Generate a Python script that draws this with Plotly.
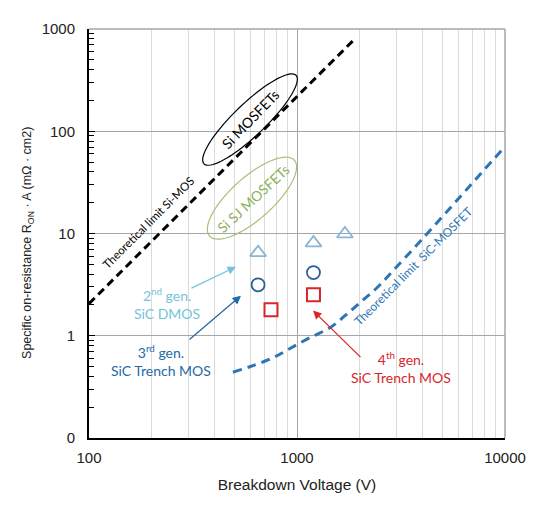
import numpy as np
import plotly.graph_objects as go

# Data
si_limit_v = [100, 1920]
si_limit_r = [2.06, 820]

sic_limit_v = [492, 614, 767, 925, 1155, 1441, 1701, 2010, 2424, 2895, 4035, 10000]
sic_limit_r = [0.44, 0.51, 0.61, 0.75, 0.96, 1.20, 1.57, 2.11, 2.95, 4.32, 9.0, 71]

gen2_v = [650, 1200, 1700]
gen2_r = [6.5, 8.1, 9.9]

gen3_v = [650, 1200]
gen3_r = [3.15, 4.15]

gen4_v = [750, 1200]
gen4_r = [1.8, 2.52]

# page has an 8px body margin
OFF = 8
W, H = 540 - OFF, 508 - OFF
# plot area in screen pixels (for the hand drawn ellipses / labels)
L, R, T, B = 89, 505, 27, 438


def px(x, y):
    return (x - L) / (R - L), (B - y) / (B - T)


def ellipse_path(cx, cy, a, b, ang):
    t = np.linspace(0, 2 * np.pi, 80)
    th = np.radians(ang)
    xs = cx + a * np.cos(t) * np.cos(th) - b * np.sin(t) * np.sin(th)
    ys = cy - (a * np.cos(t) * np.sin(th) + b * np.sin(t) * np.cos(th))
    pts = [px(x, y) for x, y in zip(xs, ys)]
    return "M " + " L ".join(f"{p[0]:.4f},{p[1]:.4f}" for p in pts) + " Z"


fig = go.Figure()

fig.add_trace(go.Scatter(
    x=si_limit_v, y=si_limit_r, mode="lines",
    line=dict(color="black", width=3, dash="8px,5px"),
    showlegend=False, hoverinfo="skip"
))
fig.add_trace(go.Scatter(
    x=sic_limit_v, y=sic_limit_r, mode="lines", line_shape="spline",
    line=dict(color="#2E75B6", width=3, dash="9px,6px"),
    showlegend=False, hoverinfo="skip"
))
fig.add_trace(go.Scatter(
    x=gen2_v, y=gen2_r, mode="markers",
    marker=dict(symbol="triangle-up-open", size=14, color="#8AB6D6", line=dict(width=1.8)),
    showlegend=False
))
fig.add_trace(go.Scatter(
    x=gen3_v, y=gen3_r, mode="markers",
    marker=dict(symbol="circle-open", size=13, color="#2F5F9B", line=dict(width=1.8)),
    showlegend=False
))
fig.add_trace(go.Scatter(
    x=gen4_v, y=gen4_r, mode="markers",
    marker=dict(symbol="square-open", size=13, color="#D9262C", line=dict(width=2)),
    showlegend=False
))

# ellipses
fig.add_shape(type="path", xref="paper", yref="paper",
              path=ellipse_path(250, 118, 64, 16, 44),
              line=dict(color="black", width=1.2))
fig.add_shape(type="path", xref="paper", yref="paper",
              path=ellipse_path(252, 197, 57, 21, 42),
              line=dict(color="#A8BF7A", width=1.2))

# top / right frame in grey
fig.add_shape(type="line", xref="paper", yref="paper", x0=0, x1=1, y0=1, y1=1,
              line=dict(color="#A6A6A6", width=1.5))
fig.add_shape(type="line", xref="paper", yref="paper", x0=1, x1=1, y0=0, y1=1,
              line=dict(color="#A6A6A6", width=1.5))

lbl_font = "Lato, Carlito, Calibri, sans-serif"
axis_font = "Liberation Sans, Arial, sans-serif"


def label(x, y, text, color, size=14, angle=0, family=lbl_font):
    fx, fy = px(x, y)
    fig.add_annotation(xref="paper", yref="paper", x=fx, y=fy, text=text,
                       xanchor="center", yanchor="middle",
                       showarrow=False, textangle=angle,
                       font=dict(family=family, size=size, color=color))


def arrow(hx, hy, tx, ty, color):
    fx, fy = px(hx, hy)
    fig.add_annotation(xref="paper", yref="paper", x=fx, y=fy, text="",
                       showarrow=True, axref="pixel", ayref="pixel",
                       ax=tx - hx, ay=ty - hy, arrowhead=2, arrowsize=1.3,
                       arrowwidth=1.3, arrowcolor=color, standoff=0)


label(250, 118, "Si MOSFETs", "black", 14, -46)
label(253, 197, "Si SJ MOSFETs", "#8DB05A", 14, -43)
label(148, 221, "Theoretical limit Si-MOS", "black", 11.5, -45)
label(413, 266, "Theoretical limit  SiC-MOSFET", "#2E75B6", 12, -45)

label(167, 303, "2<sup>nd</sup> gen.<br>SiC DMOS", "#75C3DB", 14)
label(161, 360, "3<sup>rd</sup> gen.<br>SiC Trench MOS", "#2569A8", 14)
label(401, 367, "4<sup>th</sup> gen.<br>SiC Trench MOS", "#D9262C", 14)

arrow(236, 266, 190, 288, "#75C3DB")
arrow(241, 295, 188, 340, "#2569A8")
arrow(313, 310, 362, 358, "#D9262C")

# y axis title
label(28, 242, "Specific on-resistance R<sub>ON</sub> · A (mΩ · cm2)", "#222", 12.5,
      -90, axis_font)

fig.update_layout(
    width=W, height=H,
    margin=dict(l=L - OFF, r=540 - R, t=T - OFF, b=508 - B),
    plot_bgcolor="white", paper_bgcolor="white",
    font=dict(family=axis_font, size=15, color="#222"),
    xaxis=dict(
        type="log", range=[2, 4], dtick=1, exponentformat="none",
        labelalias={"10,000": "10000"},
        showline=True, linecolor="black", linewidth=2,
        showgrid=True, gridcolor="#A6A6A6", gridwidth=1.2,
        ticks="", zeroline=False, ticklabelstandoff=5,
        minor=dict(dtick="D1", showgrid=True, gridcolor="#DADADA", gridwidth=1, ticks=""),
        title=dict(text="Breakdown Voltage (V)", font=dict(size=15.5), standoff=14),
    ),
    yaxis=dict(
        type="log", range=[-1, 3], dtick=1, exponentformat="none",
        labelalias={"0.1": "0"},
        showline=True, linecolor="black", linewidth=2,
        showgrid=True, gridcolor="#A6A6A6", gridwidth=1.2,
        ticks="inside", ticklen=6, tickcolor="black", zeroline=False,
        ticklabelstandoff=9,
        minor=dict(dtick="D1", showgrid=False, ticks="inside", ticklen=5, tickcolor="black"),
    ),
)

fig.write_html("out.html")
